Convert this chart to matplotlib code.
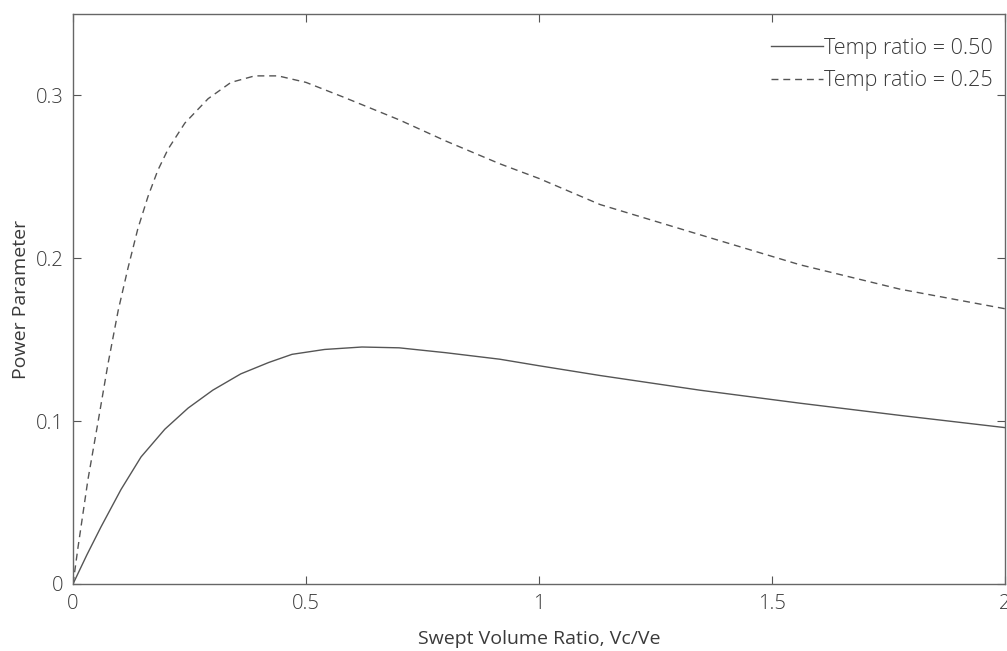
from matplotlib import pyplot as plt

# Temp ratio = 0.50 (solid)
x_050 = [0, 0.03, 0.06, 0.103, 0.146, 0.197, 0.247, 0.30, 0.36, 0.42, 0.47, 0.54, 0.62,
         0.70, 0.80, 0.916, 1.0, 1.131, 1.345, 1.56, 1.775, 2.0]
y_050 = [0, 0.018, 0.035, 0.058, 0.078, 0.095, 0.108, 0.119, 0.129, 0.136, 0.141, 0.144, 0.1455,
         0.145, 0.142, 0.138, 0.134, 0.128, 0.119, 0.111, 0.1035, 0.096]

# Temp ratio = 0.25 (dashed)
x_025 = [0, 0.011, 0.032, 0.054, 0.075, 0.097, 0.118, 0.139, 0.161, 0.182, 0.204, 0.24, 0.29,
         0.339, 0.39, 0.44, 0.50, 0.58, 0.70, 0.80, 0.916, 1.0, 1.131, 1.339, 1.56, 1.775, 2.0]
y_025 = [0, 0.023, 0.064, 0.100, 0.135, 0.168, 0.194, 0.218, 0.238, 0.254, 0.267, 0.283, 0.298,
         0.308, 0.312, 0.312, 0.308, 0.299, 0.285, 0.272, 0.258, 0.249, 0.233, 0.215, 0.196, 0.181, 0.169]

xticks = [0, 0.5, 1, 1.5, 2]
xticklabels = ['0', '0.5', '1', '1.5', '2']
yticks = [0, 0.1, 0.2, 0.3]
yticklabels = ['0', '0.1', '0.2', '0.3']

plt.rcParams['font.family'] = ['Open Sans', 'DejaVu Sans']
plt.rcParams['font.weight'] = 'light'
txt = '#3a3a3a'
linec = '#555555'

fig = plt.figure(figsize=(10.07, 6.51), dpi=100)
ax = fig.add_axes([0.0725, 0.103, 0.9255, 0.8755])

ax.plot(x_050, y_050, color=linec, lw=1.0, label='Temp ratio = 0.50')
ax.plot(x_025, y_025, color=linec, lw=1.0, ls=(0, (5, 3.5)), label='Temp ratio = 0.25')

ax.set_xlim(0, 2)
ax.set_ylim(0, 0.35)
ax.set_xticks(xticks)
ax.set_xticklabels(xticklabels)
ax.set_yticks(yticks)
ax.set_yticklabels(yticklabels)
ax.tick_params(direction='in', length=6, width=0.8, colors=linec, labelcolor=txt,
               labelsize=14.5, top=True, right=True, pad=7)

for s in ax.spines.values():
    s.set_color('#666666')
    s.set_linewidth(1.0)

ax.set_xlabel('Swept Volume Ratio, Vc/Ve', fontsize=14, color=txt, labelpad=12)
ax.set_ylabel('Power Parameter', fontsize=14, color=txt, labelpad=4)

leg = ax.legend(loc='upper right', bbox_to_anchor=(1.003, 0.985), frameon=False, fontsize=15.5,
                handlelength=2.4, handletextpad=0.05, labelspacing=0.55, borderaxespad=0.3,
                labelcolor=txt)

plt.savefig('out.png', dpi=100)
